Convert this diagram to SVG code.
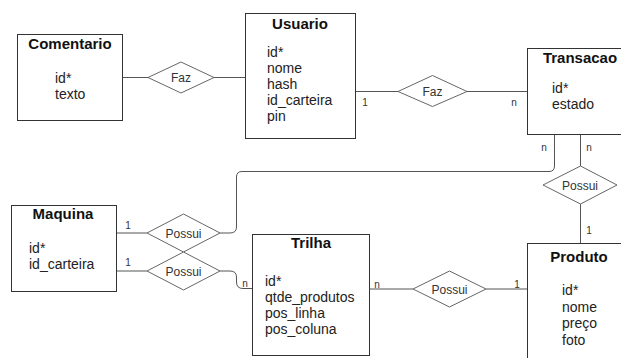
<svg xmlns="http://www.w3.org/2000/svg" width="621" height="358" viewBox="0 0 621 358">
<style>
.box{fill:#fff;stroke:#333;stroke-width:1}
.dia{fill:#fff;stroke:#666;stroke-width:1}
.ln{fill:none;stroke:#555;stroke-width:1}
.title{font-family:"Liberation Sans",Arial,sans-serif;font-size:15px;font-weight:bold;fill:#111;text-anchor:middle}
.attr{font-family:"Liberation Sans",Arial,sans-serif;font-size:14px;fill:#222}
.rel{font-family:"Liberation Sans",Arial,sans-serif;font-size:12px;fill:#333;text-anchor:middle}
.card{font-family:"Liberation Sans",Arial,sans-serif;font-size:10px;fill:#333;text-anchor:middle}
</style>
<rect width="621" height="358" fill="#fff"/>
<g id="connectors">
<path class="ln" d="M122.5,77.5 H148 M214,77.5 H245.5"/>
<path class="ln" d="M355.5,91.5 H398 M467,91.5 H527.5"/>
<path class="ln" d="M554.5,134.5 V166 Q554.5,171.5 549,171.5 H242 Q236.5,171.5 236.5,177 V227 Q236.5,233 230,233 H220"/>
<path class="ln" d="M116.5,233 H147 M116.5,271 H147"/>
<path class="ln" d="M220,271 H230 Q236.5,271 236.5,277 V282 Q236.5,288.5 243,288.5 H252.5"/>
<path class="ln" d="M580.5,134.5 V166 M580.5,204 V243.5"/>
<path class="ln" d="M369.5,289 H413 M486,289 H527.5"/>
<text class="card" x="365" y="106">1</text>
<text class="card" x="514" y="106">n</text>
<text class="card" x="544" y="151">n</text>
<text class="card" x="589" y="151">n</text>
<text class="card" x="589" y="234">1</text>
<text class="card" x="128" y="229">1</text>
<text class="card" x="128" y="266">1</text>
<text class="card" x="245" y="287">n</text>
<text class="card" x="377" y="288">n</text>
<text class="card" x="517" y="288">1</text>
</g>
<g id="faz1">
<polygon class="dia" points="148,77.5 181,62 214,77.5 181,93"/>
<text class="rel" x="181" y="82">Faz</text>
</g>
<g id="faz2">
<polygon class="dia" points="398,91.5 432.5,75.5 467,91.5 432.5,106.5"/>
<text class="rel" x="432.5" y="96">Faz</text>
</g>
<g id="possui1">
<polygon class="dia" points="147,233 183.5,214 220,233 183.5,252"/>
<text class="rel" x="183.5" y="237.5">Possui</text>
</g>
<g id="possui2">
<polygon class="dia" points="147,271 183.5,252 220,271 183.5,290"/>
<text class="rel" x="183.5" y="275.5">Possui</text>
</g>
<g id="possui3">
<polygon class="dia" points="543,185 580.5,166 617,185 580.5,204"/>
<text class="rel" x="580" y="189.5">Possui</text>
</g>
<g id="possui4">
<polygon class="dia" points="413,289 449.5,271 486,289 449.5,307"/>
<text class="rel" x="449.5" y="293.5">Possui</text>
</g>
<g id="comentario">
<rect class="box" x="17.5" y="34.5" width="105" height="86"/>
<text class="title" x="70" y="49">Comentario</text>
<text class="attr" x="55" y="83">id*</text>
<text class="attr" x="55" y="99">texto</text>
</g>
<g id="usuario">
<rect class="box" x="245.5" y="13.5" width="110" height="125"/>
<text class="title" x="300" y="29">Usuario</text>
<text class="attr" x="267" y="57">id*</text>
<text class="attr" x="267" y="73">nome</text>
<text class="attr" x="267" y="89">hash</text>
<text class="attr" x="267" y="105">id_carteira</text>
<text class="attr" x="267" y="121">pin</text>
</g>
<g id="transacao">
<rect class="box" x="527.5" y="48.5" width="110" height="86"/>
<text class="title" x="580" y="63">Transacao</text>
<text class="attr" x="552" y="93">id*</text>
<text class="attr" x="552" y="109">estado</text>
</g>
<g id="maquina">
<rect class="box" x="11.5" y="205.5" width="105" height="86"/>
<text class="title" x="63" y="219">Maquina</text>
<text class="attr" x="29" y="253">id*</text>
<text class="attr" x="29" y="269">id_carteira</text>
</g>
<g id="trilha">
<rect class="box" x="252.5" y="234.5" width="117" height="121"/>
<text class="title" x="311" y="248">Trilha</text>
<text class="attr" x="265" y="286">id*</text>
<text class="attr" x="265" y="302">qtde_produtos</text>
<text class="attr" x="265" y="318">pos_linha</text>
<text class="attr" x="265" y="334">pos_coluna</text>
</g>
<g id="produto">
<rect class="box" x="527.5" y="243.5" width="110" height="130"/>
<text class="title" x="579" y="262">Produto</text>
<text class="attr" x="562" y="295">id*</text>
<text class="attr" x="562" y="312">nome</text>
<text class="attr" x="562" y="328">preço</text>
<text class="attr" x="562" y="345">foto</text>
</g>
</svg>
